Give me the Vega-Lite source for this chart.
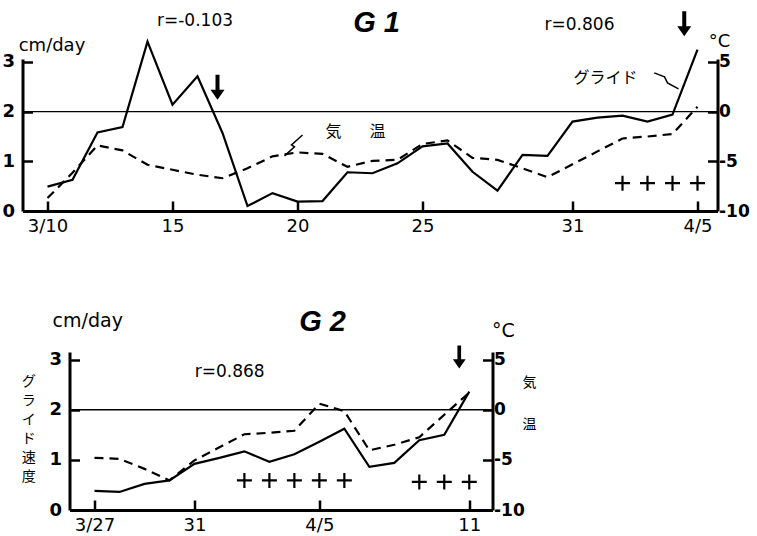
{
  "$schema": "https://vega.github.io/schema/vega-lite/v6.json",
  "background": "white",
  "padding": {"left": 1.5, "top": 8, "right": 2, "bottom": 2},
  "config": {
    "view": {"stroke": null},
    "axis": {
      "grid": false,
      "domainColor": "black",
      "domainWidth": 3,
      "tickColor": "black",
      "tickWidth": 2.5,
      "tickSize": -10,
      "labelColor": "black",
      "labelFont": "DejaVu Sans",
      "labelFontSize": 18
    }
  },
  "datasets": {
    "g1": [
      {"d": 10, "glide": 0.49, "temp": -8.7},
      {"d": 11, "glide": 0.63, "temp": -6.15},
      {"d": 12, "glide": 1.58, "temp": -3.4},
      {"d": 13, "glide": 1.69, "temp": -3.9},
      {"d": 14, "glide": 3.41, "temp": -5.35},
      {"d": 15, "glide": 2.14, "temp": -5.85},
      {"d": 16, "glide": 2.71, "temp": -6.35},
      {"d": 17, "glide": 1.57, "temp": -6.7},
      {"d": 18, "glide": 0.10, "temp": -5.7},
      {"d": 19, "glide": 0.36, "temp": -4.5},
      {"d": 20, "glide": 0.19, "temp": -4.1},
      {"d": 21, "glide": 0.20, "temp": -4.25},
      {"d": 22, "glide": 0.78, "temp": -5.55},
      {"d": 23, "glide": 0.76, "temp": -4.95},
      {"d": 24, "glide": 0.96, "temp": -4.85},
      {"d": 25, "glide": 1.30, "temp": -3.25},
      {"d": 26, "glide": 1.36, "temp": -2.9},
      {"d": 27, "glide": 0.79, "temp": -4.65},
      {"d": 28, "glide": 0.41, "temp": -4.85},
      {"d": 29, "glide": 1.13, "temp": -5.7},
      {"d": 30, "glide": 1.11, "temp": -6.6},
      {"d": 31, "glide": 1.80, "temp": -5.3},
      {"d": 32, "glide": 1.88, "temp": -4.0},
      {"d": 33, "glide": 1.92, "temp": -2.7},
      {"d": 34, "glide": 1.80, "temp": -2.5},
      {"d": 35, "glide": 1.94, "temp": -2.25},
      {"d": 36, "glide": 3.25, "temp": 0.5}
    ],
    "g2": [
      {"d": 27, "glide": 0.38, "temp": -4.8},
      {"d": 28, "glide": 0.36, "temp": -4.9},
      {"d": 29, "glide": 0.52, "temp": -5.9},
      {"d": 30, "glide": 0.59, "temp": -7.05},
      {"d": 31, "glide": 0.92, "temp": -5.05},
      {"d": 32, "glide": 1.04, "temp": -3.75},
      {"d": 33, "glide": 1.17, "temp": -2.45},
      {"d": 34, "glide": 0.96, "temp": -2.3},
      {"d": 35, "glide": 1.11, "temp": -2.1},
      {"d": 36, "glide": 1.36, "temp": 0.6},
      {"d": 37, "glide": 1.62, "temp": -0.15},
      {"d": 38, "glide": 0.86, "temp": -4.05},
      {"d": 39, "glide": 0.94, "temp": -3.5},
      {"d": 40, "glide": 1.39, "temp": -2.75},
      {"d": 41, "glide": 1.50, "temp": -0.5},
      {"d": 42, "glide": 2.36, "temp": 1.7}
    ],
    "g1text": [
      {"kind": "r", "d": 15.9, "v": 3.82, "label": "r=-0.103"},
      {"kind": "r", "d": 31.28, "v": 3.75, "label": "r=0.806"},
      {"kind": "title", "d": 23.16, "v": 3.79, "label": "G 1"},
      {"kind": "unit", "d": 10.18, "v": 3.32, "label": "cm/day"},
      {"kind": "unit", "d": 36.88, "v": 3.40, "label": "°C"},
      {"kind": "jp", "d": 32.32, "v": 2.67, "label": "グライド"},
      {"kind": "jp", "d": 21.44, "v": 1.59, "label": "気"},
      {"kind": "jp", "d": 23.2, "v": 1.59, "label": "温"}
    ],
    "g2text": [
      {"kind": "r", "d": 32.41, "v": 2.76, "label": "r=0.868"},
      {"kind": "title", "d": 36.13, "v": 3.74, "label": "G 2"},
      {"kind": "unit", "d": 26.73, "v": 3.76, "label": "cm/day"},
      {"kind": "unit", "d": 43.37, "v": 3.57, "label": "°C"},
      {"kind": "jp", "d": 24.37, "v": 2.55, "label": "グ\nラ\nイ\nド\n速\n度"},
      {"kind": "jp", "d": 44.41, "v": 2.53, "label": "気"},
      {"kind": "jp", "d": 44.41, "v": 1.69, "label": "温"}
    ],
    "g1sym": [
      {"sym": "arrow", "d": 16.8, "v": 2.49},
      {"sym": "arrow", "d": 35.47, "v": 3.77},
      {"sym": "plus", "d": 33, "v": 0.56},
      {"sym": "plus", "d": 34, "v": 0.56},
      {"sym": "plus", "d": 35, "v": 0.56},
      {"sym": "plus", "d": 36, "v": 0.56}
    ],
    "g2sym": [
      {"sym": "arrow", "d": 41.6, "v": 3.05},
      {"sym": "plus", "d": 33, "v": 0.59},
      {"sym": "plus", "d": 34, "v": 0.59},
      {"sym": "plus", "d": 35, "v": 0.59},
      {"sym": "plus", "d": 36, "v": 0.59},
      {"sym": "plus", "d": 37, "v": 0.59},
      {"sym": "plus", "d": 40, "v": 0.56},
      {"sym": "plus", "d": 41, "v": 0.56},
      {"sym": "plus", "d": 42, "v": 0.56}
    ],
    "g1ptr": [
      {"pid": "a", "ord": 1, "d": 20.2, "v": 1.53},
      {"pid": "a", "ord": 2, "d": 19.76, "v": 1.33},
      {"pid": "a", "ord": 3, "d": 19.88, "v": 1.29},
      {"pid": "a", "ord": 4, "d": 19.48, "v": 1.11},
      {"pid": "b", "ord": 1, "d": 34.27, "v": 2.78},
      {"pid": "b", "ord": 2, "d": 34.68, "v": 2.70},
      {"pid": "b", "ord": 3, "d": 34.8, "v": 2.58},
      {"pid": "b", "ord": 4, "d": 35.24, "v": 2.46}
    ],
    "zero": [{"v": 2}]
  },
  "spacing": 73,
  "vconcat": [
    {
      "width": 695,
      "height": 152,
      "layer": [
        {
          "layer": [
            {
              "data": {"name": "g1"},
              "mark": {"type": "line", "color": "black", "strokeWidth": 2.2},
              "encoding": {
                "x": {"field": "d", "type": "quantitative", "scale": {"domain": [9, 36.8], "nice": false, "zero": false},
                  "axis": {"values": [10, 15, 20, 25, 31, 36], "title": null, "labelPadding": 16,
                    "labelExpr": "datum.value == 10 ? '3/10' : datum.value > 31 ? '4/' + (datum.value - 31) : datum.label"}},
                "y": {"field": "glide", "type": "quantitative", "scale": {"domain": [0, 3.06], "nice": false, "zero": false},
                  "axis": {"values": [0, 1, 2, 3], "title": null, "labelPadding": 18, "labelFontWeight": "bold"}}
              }
            },
            {
              "data": {"name": "zero"},
              "mark": {"type": "rule", "color": "black", "strokeWidth": 1.4},
              "encoding": {
                "y": {"field": "v", "type": "quantitative", "scale": {"domain": [0, 3.06], "nice": false, "zero": false},
                  "axis": {"values": [0, 1, 2, 3], "title": null, "labelPadding": 18, "labelFontWeight": "bold"}}
              }
            },
            {
              "data": {"name": "g1ptr"},
              "mark": {"type": "line", "color": "black", "strokeWidth": 1.5},
              "encoding": {
                "x": {"field": "d", "type": "quantitative", "scale": {"domain": [9, 36.8], "nice": false, "zero": false},
                  "axis": {"values": [10, 15, 20, 25, 31, 36], "title": null, "labelPadding": 16,
                    "labelExpr": "datum.value == 10 ? '3/10' : datum.value > 31 ? '4/' + (datum.value - 31) : datum.label"}},
                "y": {"field": "v", "type": "quantitative", "scale": {"domain": [0, 3.06], "nice": false, "zero": false},
                  "axis": {"values": [0, 1, 2, 3], "title": null, "labelPadding": 18, "labelFontWeight": "bold"}},
                "detail": {"field": "pid"},
                "order": {"field": "ord"}
              }
            },
            {
              "data": {"name": "g1text"},
              "transform": [{"filter": "datum.kind == 'r'"}],
              "mark": {"type": "text", "font": "DejaVu Sans", "fontSize": 17, "color": "black"},
              "encoding": {
                "x": {"field": "d", "type": "quantitative", "scale": {"domain": [9, 36.8], "nice": false, "zero": false},
                  "axis": {"values": [10, 15, 20, 25, 31, 36], "title": null, "labelPadding": 16,
                    "labelExpr": "datum.value == 10 ? '3/10' : datum.value > 31 ? '4/' + (datum.value - 31) : datum.label"}},
                "y": {"field": "v", "type": "quantitative", "scale": {"domain": [0, 3.06], "nice": false, "zero": false},
                  "axis": {"values": [0, 1, 2, 3], "title": null, "labelPadding": 18, "labelFontWeight": "bold"}},
                "text": {"field": "label"}
              }
            },
            {
              "data": {"name": "g1text"},
              "transform": [{"filter": "datum.kind == 'title'"}],
              "mark": {"type": "text", "font": "Liberation Sans", "fontSize": 29, "fontWeight": "bold", "fontStyle": "italic", "color": "black"},
              "encoding": {
                "x": {"field": "d", "type": "quantitative", "scale": {"domain": [9, 36.8], "nice": false, "zero": false},
                  "axis": {"values": [10, 15, 20, 25, 31, 36], "title": null, "labelPadding": 16,
                    "labelExpr": "datum.value == 10 ? '3/10' : datum.value > 31 ? '4/' + (datum.value - 31) : datum.label"}},
                "y": {"field": "v", "type": "quantitative", "scale": {"domain": [0, 3.06], "nice": false, "zero": false},
                  "axis": {"values": [0, 1, 2, 3], "title": null, "labelPadding": 18, "labelFontWeight": "bold"}},
                "text": {"field": "label"}
              }
            },
            {
              "data": {"name": "g1text"},
              "transform": [{"filter": "datum.kind == 'unit'"}],
              "mark": {"type": "text", "font": "DejaVu Sans", "fontSize": 18, "color": "black"},
              "encoding": {
                "x": {"field": "d", "type": "quantitative", "scale": {"domain": [9, 36.8], "nice": false, "zero": false},
                  "axis": {"values": [10, 15, 20, 25, 31, 36], "title": null, "labelPadding": 16,
                    "labelExpr": "datum.value == 10 ? '3/10' : datum.value > 31 ? '4/' + (datum.value - 31) : datum.label"}},
                "y": {"field": "v", "type": "quantitative", "scale": {"domain": [0, 3.06], "nice": false, "zero": false},
                  "axis": {"values": [0, 1, 2, 3], "title": null, "labelPadding": 18, "labelFontWeight": "bold"}},
                "text": {"field": "label"}
              }
            },
            {
              "data": {"name": "g1text"},
              "transform": [{"filter": "datum.kind == 'jp'"}],
              "mark": {"type": "text", "font": "Noto Sans CJK JP", "fontSize": 16, "color": "black"},
              "encoding": {
                "x": {"field": "d", "type": "quantitative", "scale": {"domain": [9, 36.8], "nice": false, "zero": false},
                  "axis": {"values": [10, 15, 20, 25, 31, 36], "title": null, "labelPadding": 16,
                    "labelExpr": "datum.value == 10 ? '3/10' : datum.value > 31 ? '4/' + (datum.value - 31) : datum.label"}},
                "y": {"field": "v", "type": "quantitative", "scale": {"domain": [0, 3.06], "nice": false, "zero": false},
                  "axis": {"values": [0, 1, 2, 3], "title": null, "labelPadding": 18, "labelFontWeight": "bold"}},
                "text": {"field": "label"}
              }
            },
            {
              "data": {"name": "g1sym"},
              "transform": [{"filter": "datum.sym == 'arrow'"}],
              "mark": {"type": "point", "shape": "M-0.16,-1H0.16V0.2H0.56L0,1L-0.56,0.2H-0.16Z", "size": 625, "filled": true, "color": "black", "opacity": 1},
              "encoding": {
                "x": {"field": "d", "type": "quantitative", "scale": {"domain": [9, 36.8], "nice": false, "zero": false},
                  "axis": {"values": [10, 15, 20, 25, 31, 36], "title": null, "labelPadding": 16,
                    "labelExpr": "datum.value == 10 ? '3/10' : datum.value > 31 ? '4/' + (datum.value - 31) : datum.label"}},
                "y": {"field": "v", "type": "quantitative", "scale": {"domain": [0, 3.06], "nice": false, "zero": false},
                  "axis": {"values": [0, 1, 2, 3], "title": null, "labelPadding": 18, "labelFontWeight": "bold"}}
              }
            },
            {
              "data": {"name": "g1sym"},
              "transform": [{"filter": "datum.sym == 'plus'"}],
              "mark": {"type": "point", "shape": "M-1,0H1M0,-1V1", "size": 225, "filled": false, "color": "black", "strokeWidth": 2.2, "opacity": 1},
              "encoding": {
                "x": {"field": "d", "type": "quantitative", "scale": {"domain": [9, 36.8], "nice": false, "zero": false},
                  "axis": {"values": [10, 15, 20, 25, 31, 36], "title": null, "labelPadding": 16,
                    "labelExpr": "datum.value == 10 ? '3/10' : datum.value > 31 ? '4/' + (datum.value - 31) : datum.label"}},
                "y": {"field": "v", "type": "quantitative", "scale": {"domain": [0, 3.06], "nice": false, "zero": false},
                  "axis": {"values": [0, 1, 2, 3], "title": null, "labelPadding": 18, "labelFontWeight": "bold"}}
              }
            }
          ]
        },
        {
          "data": {"name": "g1"},
          "mark": {"type": "line", "color": "black", "strokeWidth": 2.2, "strokeDash": [9, 6]},
          "encoding": {
            "x": {"field": "d", "type": "quantitative", "scale": {"domain": [9, 36.8], "nice": false, "zero": false},
              "axis": {"values": [10, 15, 20, 25, 31, 36], "title": null, "labelPadding": 16,
                "labelExpr": "datum.value == 10 ? '3/10' : datum.value > 31 ? '4/' + (datum.value - 31) : datum.label"}},
            "y": {"field": "temp", "type": "quantitative", "scale": {"domain": [-10, 5.3], "nice": false, "zero": false},
              "axis": {"orient": "right", "values": [-10, -5, 0, 5], "title": null, "labelPadding": 11, "labelFontSize": 17, "labelFontWeight": "bold", "labelExpr": "'' + datum.value"}}
          }
        }
      ],
      "resolve": {"scale": {"y": "independent"}}
    },
    {
      "spacing": -2,
      "hconcat": [
        {
          "width": 1,
          "height": 1,
          "data": {"values": []},
          "mark": {"type": "point"},
          "encoding": {}
        },
        {
          "width": 423,
          "height": 158,
          "layer": [
            {
              "layer": [
                {
                  "data": {"name": "g2"},
                  "mark": {"type": "line", "color": "black", "strokeWidth": 2.2},
                  "encoding": {
                    "x": {"field": "d", "type": "quantitative", "scale": {"domain": [26, 42.93], "nice": false, "zero": false},
                      "axis": {"values": [27, 31, 36, 42], "title": null, "labelPadding": 16,
                        "labelExpr": "datum.value == 27 ? '3/27' : datum.value == 36 ? '4/5' : datum.value > 36 ? '' + (datum.value - 31) : datum.label"}},
                    "y": {"field": "glide", "type": "quantitative", "scale": {"domain": [0, 3.15], "nice": false, "zero": false},
                      "axis": {"values": [0, 1, 2, 3], "title": null, "labelPadding": 18, "labelFontWeight": "bold"}}
                  }
                },
                {
                  "data": {"name": "zero"},
                  "mark": {"type": "rule", "color": "black", "strokeWidth": 1.4},
                  "encoding": {
                    "y": {"field": "v", "type": "quantitative", "scale": {"domain": [0, 3.15], "nice": false, "zero": false},
                      "axis": {"values": [0, 1, 2, 3], "title": null, "labelPadding": 18, "labelFontWeight": "bold"}}
                  }
                },
                {
                  "data": {"name": "g2text"},
                  "transform": [{"filter": "datum.kind == 'r'"}],
                  "mark": {"type": "text", "font": "DejaVu Sans", "fontSize": 17, "color": "black"},
                  "encoding": {
                    "x": {"field": "d", "type": "quantitative", "scale": {"domain": [26, 42.93], "nice": false, "zero": false},
                      "axis": {"values": [27, 31, 36, 42], "title": null, "labelPadding": 16,
                        "labelExpr": "datum.value == 27 ? '3/27' : datum.value == 36 ? '4/5' : datum.value > 36 ? '' + (datum.value - 31) : datum.label"}},
                    "y": {"field": "v", "type": "quantitative", "scale": {"domain": [0, 3.15], "nice": false, "zero": false},
                      "axis": {"values": [0, 1, 2, 3], "title": null, "labelPadding": 18, "labelFontWeight": "bold"}},
                    "text": {"field": "label"}
                  }
                },
                {
                  "data": {"name": "g2text"},
                  "transform": [{"filter": "datum.kind == 'title'"}],
                  "mark": {"type": "text", "font": "Liberation Sans", "fontSize": 29, "fontWeight": "bold", "fontStyle": "italic", "color": "black"},
                  "encoding": {
                    "x": {"field": "d", "type": "quantitative", "scale": {"domain": [26, 42.93], "nice": false, "zero": false},
                      "axis": {"values": [27, 31, 36, 42], "title": null, "labelPadding": 16,
                        "labelExpr": "datum.value == 27 ? '3/27' : datum.value == 36 ? '4/5' : datum.value > 36 ? '' + (datum.value - 31) : datum.label"}},
                    "y": {"field": "v", "type": "quantitative", "scale": {"domain": [0, 3.15], "nice": false, "zero": false},
                      "axis": {"values": [0, 1, 2, 3], "title": null, "labelPadding": 18, "labelFontWeight": "bold"}},
                    "text": {"field": "label"}
                  }
                },
                {
                  "data": {"name": "g2text"},
                  "transform": [{"filter": "datum.kind == 'unit'"}],
                  "mark": {"type": "text", "font": "DejaVu Sans", "fontSize": 19, "color": "black"},
                  "encoding": {
                    "x": {"field": "d", "type": "quantitative", "scale": {"domain": [26, 42.93], "nice": false, "zero": false},
                      "axis": {"values": [27, 31, 36, 42], "title": null, "labelPadding": 16,
                        "labelExpr": "datum.value == 27 ? '3/27' : datum.value == 36 ? '4/5' : datum.value > 36 ? '' + (datum.value - 31) : datum.label"}},
                    "y": {"field": "v", "type": "quantitative", "scale": {"domain": [0, 3.15], "nice": false, "zero": false},
                      "axis": {"values": [0, 1, 2, 3], "title": null, "labelPadding": 18, "labelFontWeight": "bold"}},
                    "text": {"field": "label"}
                  }
                },
                {
                  "data": {"name": "g2text"},
                  "transform": [{"filter": "datum.kind == 'jp'"}],
                  "mark": {"type": "text", "font": "Noto Sans CJK JP", "fontSize": 14, "lineHeight": 19, "lineBreak": "\n", "color": "black"},
                  "encoding": {
                    "x": {"field": "d", "type": "quantitative", "scale": {"domain": [26, 42.93], "nice": false, "zero": false},
                      "axis": {"values": [27, 31, 36, 42], "title": null, "labelPadding": 16,
                        "labelExpr": "datum.value == 27 ? '3/27' : datum.value == 36 ? '4/5' : datum.value > 36 ? '' + (datum.value - 31) : datum.label"}},
                    "y": {"field": "v", "type": "quantitative", "scale": {"domain": [0, 3.15], "nice": false, "zero": false},
                      "axis": {"values": [0, 1, 2, 3], "title": null, "labelPadding": 18, "labelFontWeight": "bold"}},
                    "text": {"field": "label"}
                  }
                },
                {
                  "data": {"name": "g2sym"},
                  "transform": [{"filter": "datum.sym == 'arrow'"}],
                  "mark": {"type": "point", "shape": "M-0.16,-1H0.16V0.2H0.56L0,1L-0.56,0.2H-0.16Z", "size": 529, "filled": true, "color": "black", "opacity": 1},
                  "encoding": {
                    "x": {"field": "d", "type": "quantitative", "scale": {"domain": [26, 42.93], "nice": false, "zero": false},
                      "axis": {"values": [27, 31, 36, 42], "title": null, "labelPadding": 16,
                        "labelExpr": "datum.value == 27 ? '3/27' : datum.value == 36 ? '4/5' : datum.value > 36 ? '' + (datum.value - 31) : datum.label"}},
                    "y": {"field": "v", "type": "quantitative", "scale": {"domain": [0, 3.15], "nice": false, "zero": false},
                      "axis": {"values": [0, 1, 2, 3], "title": null, "labelPadding": 18, "labelFontWeight": "bold"}}
                  }
                },
                {
                  "data": {"name": "g2sym"},
                  "transform": [{"filter": "datum.sym == 'plus'"}],
                  "mark": {"type": "point", "shape": "M-1,0H1M0,-1V1", "size": 225, "filled": false, "color": "black", "strokeWidth": 2.2, "opacity": 1},
                  "encoding": {
                    "x": {"field": "d", "type": "quantitative", "scale": {"domain": [26, 42.93], "nice": false, "zero": false},
                      "axis": {"values": [27, 31, 36, 42], "title": null, "labelPadding": 16,
                        "labelExpr": "datum.value == 27 ? '3/27' : datum.value == 36 ? '4/5' : datum.value > 36 ? '' + (datum.value - 31) : datum.label"}},
                    "y": {"field": "v", "type": "quantitative", "scale": {"domain": [0, 3.15], "nice": false, "zero": false},
                      "axis": {"values": [0, 1, 2, 3], "title": null, "labelPadding": 18, "labelFontWeight": "bold"}}
                  }
                }
              ]
            },
            {
              "data": {"name": "g2"},
              "mark": {"type": "line", "color": "black", "strokeWidth": 2.2, "strokeDash": [9, 6]},
              "encoding": {
                "x": {"field": "d", "type": "quantitative", "scale": {"domain": [26, 42.93], "nice": false, "zero": false},
                  "axis": {"values": [27, 31, 36, 42], "title": null, "labelPadding": 16,
                    "labelExpr": "datum.value == 27 ? '3/27' : datum.value == 36 ? '4/5' : datum.value > 36 ? '' + (datum.value - 31) : datum.label"}},
                "y": {"field": "temp", "type": "quantitative", "scale": {"domain": [-10, 5.75], "nice": false, "zero": false},
                  "axis": {"orient": "right", "values": [-10, -5, 0, 5], "title": null, "labelPadding": 11, "labelFontSize": 17, "labelFontWeight": "bold", "labelExpr": "'' + datum.value"}}
              }
            }
          ],
          "resolve": {"scale": {"y": "independent"}}
        }
      ]
    }
  ]
}
